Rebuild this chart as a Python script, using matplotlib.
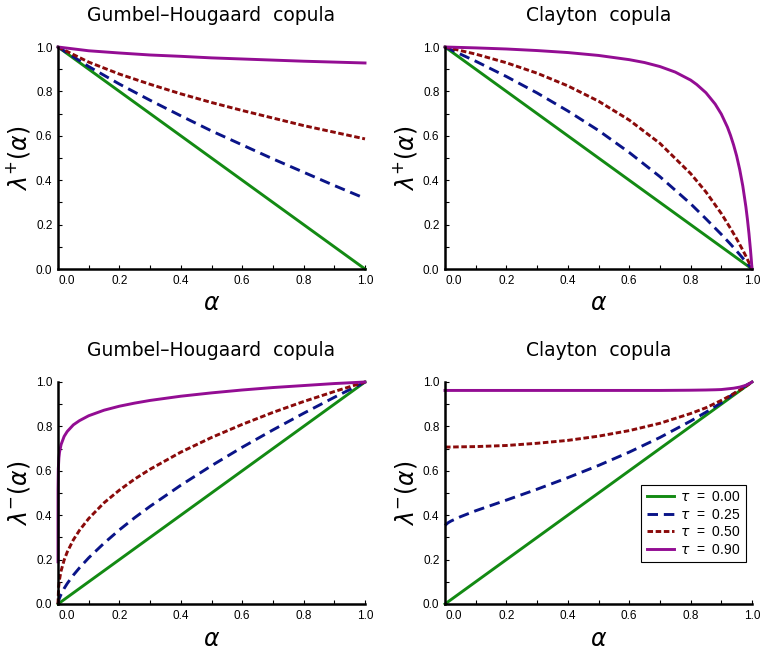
import matplotlib
matplotlib.use("Agg")
import matplotlib.pyplot as plt

plt.rcParams['font.family'] = ['Liberation Sans', 'DejaVu Sans']
plt.rcParams['mathtext.fontset'] = 'dejavusans'

# legend labels
taus = ['0.00', '0.25', '0.50', '0.90']

# --- Gumbel-Hougaard, upper tail (top left) ---
gu_alpha = [0.0, 0.1, 0.2, 0.3, 0.4, 0.5, 0.6, 0.7, 0.8, 0.9, 1.0]
gu_t000 = [1.0, 0.9, 0.8, 0.7, 0.6, 0.5, 0.4, 0.3, 0.2, 0.1, 0.0]
gu_t025 = [1.0, 0.912, 0.833, 0.760, 0.690, 0.622, 0.559, 0.496, 0.436, 0.376, 0.318]
gu_t050 = [1.0, 0.932, 0.878, 0.832, 0.789, 0.750, 0.714, 0.680, 0.646, 0.616, 0.586]
gu_t090 = [1.0, 0.983, 0.973, 0.964, 0.958, 0.951, 0.946, 0.941, 0.936, 0.932, 0.928]

# --- Clayton, upper tail (top right) ---
cu_alpha = [0.0, 0.1, 0.2, 0.3, 0.4, 0.5, 0.6, 0.7, 0.8, 0.85, 0.9, 0.93, 0.95,
            0.97, 0.98, 0.99, 0.995, 1.0]
cu_t000 = [1.0, 0.9, 0.8, 0.7, 0.6, 0.5, 0.4, 0.3, 0.2, 0.15, 0.1, 0.07, 0.05,
           0.03, 0.02, 0.01, 0.005, 0.0]
cu_t025 = [1.0, 0.936, 0.867, 0.793, 0.712, 0.624, 0.525, 0.416, 0.294, 0.226, 0.156,
           0.112, 0.081, 0.049, 0.032, 0.016, 0.008, 0.0]
cu_t050 = [1.0, 0.968, 0.929, 0.882, 0.825, 0.756, 0.671, 0.566, 0.430, 0.347, 0.250,
           0.183, 0.136, 0.085, 0.058, 0.029, 0.015, 0.0]
cu_p_alpha = [0.0, 0.1, 0.2, 0.3, 0.4, 0.5, 0.6, 0.65, 0.7, 0.75, 0.8, 0.82, 0.85,
              0.88, 0.9, 0.92, 0.93, 0.94, 0.95, 0.96, 0.97, 0.98, 0.985, 0.99,
              0.995, 0.998, 1.0]
cu_t090 = [1.0, 0.996, 0.991, 0.984, 0.975, 0.962, 0.943, 0.930, 0.912, 0.887, 0.851,
           0.831, 0.794, 0.743, 0.698, 0.639, 0.602, 0.559, 0.509, 0.448, 0.374,
           0.281, 0.225, 0.161, 0.087, 0.037, 0.0]

# --- Gumbel-Hougaard, lower tail (bottom left) ---
gl_alpha = [0.0, 0.002, 0.005, 0.01, 0.02, 0.03, 0.05, 0.07, 0.1, 0.15, 0.2, 0.25,
            0.3, 0.4, 0.5, 0.6, 0.7, 0.8, 0.9, 1.0]
gl_t000 = [0.0, 0.002, 0.005, 0.01, 0.02, 0.03, 0.05, 0.07, 0.1, 0.15, 0.2, 0.25,
           0.3, 0.4, 0.5, 0.6, 0.7, 0.8, 0.9, 1.0]
gl_t025 = [0.0, 0.015, 0.027, 0.043, 0.070, 0.092, 0.130, 0.163, 0.208, 0.274, 0.334,
           0.389, 0.440, 0.535, 0.623, 0.706, 0.784, 0.859, 0.931, 1.0]
gl_t050 = [0.0, 0.076, 0.111, 0.149, 0.198, 0.234, 0.289, 0.332, 0.385, 0.456, 0.513,
           0.563, 0.607, 0.684, 0.750, 0.809, 0.863, 0.912, 0.957, 1.0]
gl_p_alpha = [0.0, 0.000001, 0.0001, 0.001, 0.003, 0.005, 0.01, 0.02, 0.03, 0.05,
              0.07, 0.1, 0.15, 0.2, 0.25, 0.3, 0.4, 0.5, 0.6, 0.7, 0.8, 0.9, 1.0]
gl_t090 = [0.19, 0.371, 0.516, 0.609, 0.659, 0.684, 0.718, 0.755, 0.777, 0.807,
           0.826, 0.848, 0.873, 0.891, 0.905, 0.917, 0.936, 0.951, 0.964, 0.975,
           0.984, 0.993, 1.0]

# --- Clayton, lower tail (bottom right) ---
cl_alpha = [0.0, 0.01, 0.02, 0.05, 0.1, 0.2, 0.3, 0.4, 0.5, 0.6, 0.7, 0.8, 0.85,
            0.9, 0.93, 0.95, 0.98, 1.0]
cl_t000 = [0.0, 0.01, 0.02, 0.05, 0.1, 0.2, 0.3, 0.4, 0.5, 0.6, 0.7, 0.8, 0.85,
           0.9, 0.93, 0.95, 0.98, 1.0]
cl_t025 = [0.354, 0.366, 0.374, 0.393, 0.420, 0.468, 0.517, 0.569, 0.624, 0.684, 0.750,
           0.824, 0.864, 0.906, 0.937, 0.957, 0.984, 1.0]
cl_t050 = [0.707, 0.707, 0.707, 0.708, 0.709, 0.714, 0.724, 0.737, 0.756, 0.781, 0.814,
           0.858, 0.884, 0.917, 0.939, 0.955, 0.980, 1.0]
cl_p_alpha = [0.0, 0.2, 0.4, 0.6, 0.7, 0.8, 0.85, 0.88, 0.9, 0.92, 0.94, 0.96,
              0.97, 0.98, 0.99, 1.0]
cl_t090 = [0.962, 0.962, 0.962, 0.962, 0.962, 0.963, 0.964, 0.965, 0.966, 0.969,
           0.972, 0.977, 0.981, 0.985, 0.992, 1.0]

colors = ['#138a13', '#0a1488', '#8a0a0a', '#930d93']
styles = [dict(linestyle='-'),
          dict(linestyle=(0, (3.6, 2.0))),
          dict(linestyle=(0, (1.9, 0.9))),
          dict(linestyle='-')]

panels = [
    ("Gumbel\u2013Hougaard  copula", r'$\lambda^{+}(\alpha)$',
     [(gu_alpha, gu_t000), (gu_alpha, gu_t025), (gu_alpha, gu_t050), (gu_alpha, gu_t090)]),
    ("Clayton  copula", r'$\lambda^{+}(\alpha)$',
     [(cu_alpha, cu_t000), (cu_alpha, cu_t025), (cu_alpha, cu_t050), (cu_p_alpha, cu_t090)]),
    ("Gumbel\u2013Hougaard  copula", r'$\lambda^{-}(\alpha)$',
     [(gl_alpha, gl_t000), (gl_alpha, gl_t025), (gl_alpha, gl_t050), (gl_p_alpha, gl_t090)]),
    ("Clayton  copula", r'$\lambda^{-}(\alpha)$',
     [(cl_alpha, cl_t000), (cl_alpha, cl_t025), (cl_alpha, cl_t050), (cl_p_alpha, cl_t090)]),
]

W, H = 761, 654
fig = plt.figure(figsize=(W / 100, H / 100), dpi=100)
rects = [(58, 47, 307, 222), (445, 47, 307, 222), (58, 382, 307, 222), (445, 382, 307, 222)]

ticks = [i / 10 for i in range(11)]
ticklabels = ['%.1f' % t if i % 2 == 0 else '' for i, t in enumerate(ticks)]

for (x0, y0, w, h), (title, ylab, series) in zip(rects, panels):
    ax = fig.add_axes([x0 / W, 1 - (y0 + h) / H, w / W, h / H])
    for (xs, ys), c, st, t in zip(series, colors, styles, taus):
        ax.plot(xs, ys, color=c, lw=2.1, label=r'$\tau$  =  ' + t, clip_on=False, **st)
    ax.set_xlim(0, 1)
    ax.set_ylim(0, 1)
    for s in ['top', 'right']:
        ax.spines[s].set_visible(False)
    for s in ['left', 'bottom']:
        ax.spines[s].set_linewidth(1.8)
    ax.set_xticks(ticks)
    ax.set_yticks(ticks)
    ax.set_xticklabels(ticklabels)
    ax.set_yticklabels(ticklabels)
    ax.xaxis.get_ticklabels()[0].set_ha('left')
    ax.tick_params(direction='in', length=3, width=0.8, labelsize=8.5, pad=4)
    ax.set_title(title, fontsize=13.5, pad=19, family='DejaVu Sans')
    ax.set_xlabel(r'$\alpha$', fontsize=17, labelpad=5)
    ax.set_ylabel(ylab, fontsize=17)
    ax.yaxis.set_label_coords(-0.085, 0.5)
    last = ax

leg = last.legend(loc='upper right', bbox_to_anchor=(0.98, 0.537), borderaxespad=0,
                  fontsize=10, handlelength=2.0, handletextpad=0.4, borderpad=0.4,
                  labelspacing=0.25, fancybox=False, framealpha=1, edgecolor='black')
leg.get_frame().set_linewidth(0.8)

fig.savefig('out.png', dpi=100)
